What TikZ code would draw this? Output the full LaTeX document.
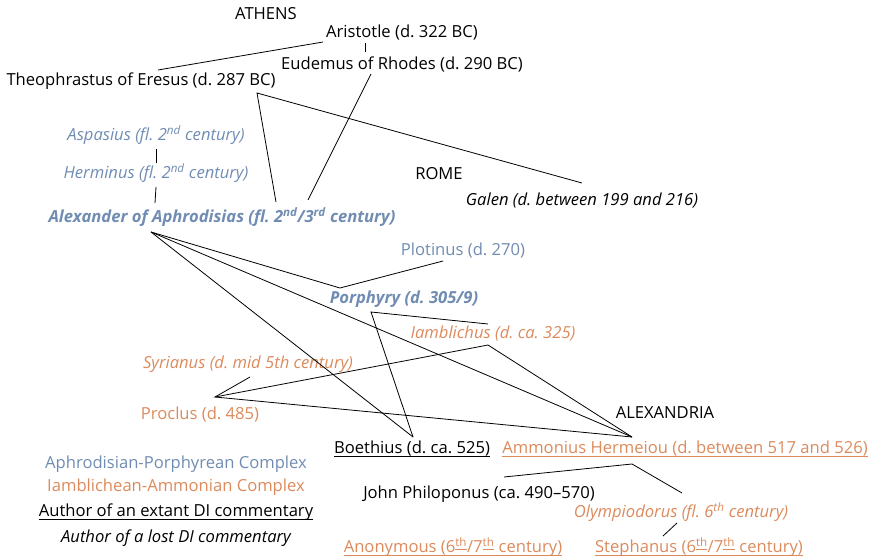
\documentclass[tikz,border=0pt]{standalone}
\usepackage{xcolor}
\usepackage{fontspec}
\setmainfont{Open Sans}
\usepackage{tikz}

\definecolor{aphblue}{RGB}{112,140,178}
\definecolor{iamorange}{RGB}{220,138,92}
\newcommand{\diagfont}{\fontsize{16.6}{19}\selectfont}
% underline close to the baseline, through the descenders
\newcommand{\dunder}[1]{\leavevmode\setbox0\hbox{#1}\rlap{\vrule width\wd0 height -2.2pt depth 3pt}\box0}
\frenchspacing

\begin{document}
\begin{tikzpicture}[x=1pt, y=1pt,
	person/.style={inner sep=0pt, text height=11.5pt, text depth=0pt, font=\diagfont},
	aph/.style={person, text=aphblue},
	iam/.style={person, text=iamorange},
	link/.style={line width=0.8pt}]
	\useasboundingbox (0,0) rectangle (873,-559);
	
	% Athens
	\node (athens) at (266,-14) [person] {ATHENS};
	\node (aristotle) at (402,-32) [person] {Aristotle (d. 322 BC)};
	\node (eudemus) at (402,-64) [person] {Eudemus of Rhodes (d. 290 BC)};
	\node (theophrastus) at (141,-80) [person] {Theophrastus of Eresus (d. 287 BC)};
	
	% Aphrodisian-Porphyrean complex
	\node (aspasius) at (156,-135) [aph, font=\diagfont\itshape] {Aspasius (fl. 2\textsuperscript{nd} century)};
	\node (herminus) at (156,-173) [aph, font=\diagfont\itshape] {Herminus (fl. 2\textsuperscript{nd} century)};
	\node (alexander) at (222,-217) [aph, font=\diagfont\bfseries\itshape] {Alexander of Aphrodisias (fl. 2\textsuperscript{nd}/3\textsuperscript{rd} century)};
	\node (plotinus) at (463,-250) [aph] {Plotinus (d. 270)};
	\node (porphyry) at (404,-298) [aph, font=\diagfont\bfseries\itshape] {Porphyry (d. 305/9)};
	
	% Rome
	\node (rome) at (439,-174) [person] {ROME};
	\node (galen) at (582,-200) [person, font=\diagfont\itshape] {Galen (d. between 199 and 216)};
	
	% Iamblichean-Ammonian complex
	\node (iamblichus) at (493,-333) [iam, font=\diagfont\itshape] {Iamblichus (d. ca. 325)};
	\node (syrianus) at (248,-363) [iam, font=\diagfont\itshape] {Syrianus (d. mid 5th century)};
	\node (proclus) at (200,-414) [iam] {Proclus (d. 485)};
	
	% Alexandria
	\node (alexandria) at (665,-413) [person] {ALEXANDRIA};
	\node (boethius) at (412,-448) [person] {\dunder{Boethius (d. ca. 525)}};
	\node (ammonius) at (685,-448) [iam] {\dunder{Ammonius Hermeiou (d. between 517 and 526)}};
	\node (philoponus) at (479,-493) [person] {John Philoponus (ca. 490--570)};
	\node (olympiodorus) at (681,-512) [iam, font=\diagfont\itshape] {Olympiodorus (fl. 6\textsuperscript{th} century)};
	\node (anonymous) at (453,-547) [iam] {\dunder{Anonymous (6\textsuperscript{\dunder{th}}/7\textsuperscript{\dunder{th}} century)}};
	\node (stephanus) at (699,-547) [iam] {\dunder{Stephanus (6\textsuperscript{\dunder{th}}/7\textsuperscript{\dunder{th}} century)}};
	
	% Legend
	\node (legaph) at (176,-463) [aph] {Aphrodisian-Porphyrean Complex};
	\node (legiam) at (176,-486) [iam] {Iamblichean-Ammonian Complex};
	\node (legext) at (176,-511) [person] {\dunder{Author of an extant DI commentary}};
	\node (leglost) at (176,-537) [person, font=\diagfont\itshape] {Author of a lost DI commentary};
	
	% Connectors
	\draw [link] ([shift={(-79,-10)}]aristotle.center) -- ([shift={(17,10)}]theophrastus.center);
	\draw [link] ([shift={(-37,-11)}]aristotle.center) -- ([shift={(-37,12)}]eudemus.center);
	\draw [link] ([shift={(-31,-10)}]eudemus.center) -- ([shift={(86,17)}]alexander.center);
	\draw [link] ([shift={(54,15)}]alexander.center) -- ([shift={(116,-13)}]theophrastus.center) -- ([shift={(0,17)}]galen.center);
	\draw [link] ([shift={(0,-14)}]aspasius.center) -- ([shift={(0,10)}]herminus.center);
	\draw [link] ([shift={(0,-14)}]herminus.center) -- ([shift={(-67,14)}]alexander.center);
	
	\coordinate (alexhub) at ([shift={(-71,-15)}]alexander.center);
	\draw [link] (alexhub) -- ([shift={(-64,10)}]porphyry.center) -- ([shift={(-20,-11)}]plotinus.center);
	\draw [link] (alexhub) -- ([shift={(1,11)}]boethius.center);
	\draw [link] (alexhub) -- ([shift={(-53,11)}]ammonius.center);
	
	\draw [link] ([shift={(-5,9)}]iamblichus.center) -- ([shift={(-33,-14)}]porphyry.center) -- ([shift={(1,11)}]boethius.center);
	\draw [link] ([shift={(-53,11)}]ammonius.center) -- ([shift={(-5,-12)}]iamblichus.center) -- ([shift={(15,17)}]proclus.center);
	\draw [link] ([shift={(2,-14)}]syrianus.center) -- ([shift={(15,17)}]proclus.center) -- ([shift={(-53,11)}]ammonius.center);
	
	\draw [link] ([shift={(25,16)}]philoponus.center) -- ([shift={(-53,-16)}]ammonius.center) -- ([shift={(1,19)}]olympiodorus.center);
	\draw [link] ([shift={(-4,-11)}]olympiodorus.center) -- ([shift={(-36,11)}]stephanus.center);
\end{tikzpicture}
\end{document}
